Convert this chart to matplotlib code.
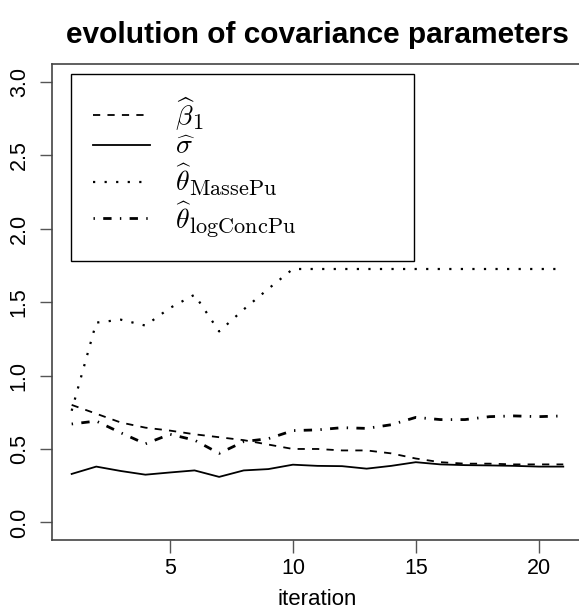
import numpy as np
import matplotlib
matplotlib.use("Agg")
from matplotlib import pyplot as plt
import matplotlib._mathtext as mt

# wider subscripts, closer to the LaTeX look of the original legend
mt.SHRINK_FACTOR = 0.8

# iterations and estimated covariance parameters
iteration = np.arange(1, 22)
beta1 = [0.80, 0.74, 0.68, 0.645, 0.625, 0.60, 0.58, 0.56, 0.53, 0.50, 0.50,
         0.49, 0.49, 0.47, 0.435, 0.41, 0.40, 0.40, 0.395, 0.395, 0.395]
sigma = [0.33, 0.38, 0.35, 0.325, 0.34, 0.354, 0.31, 0.354, 0.363, 0.393, 0.385,
         0.383, 0.366, 0.385, 0.41, 0.395, 0.39, 0.388, 0.385, 0.38, 0.38]
theta_masse = [0.76, 1.36, 1.38, 1.34, 1.46, 1.55, 1.30, 1.45, 1.59, 1.725, 1.725,
               1.725, 1.725, 1.725, 1.725, 1.725, 1.725, 1.725, 1.725, 1.725, 1.725]
theta_logconc = [0.67, 0.69, 0.61, 0.535, 0.60, 0.56, 0.47, 0.55, 0.57, 0.625, 0.63,
                 0.645, 0.64, 0.665, 0.715, 0.70, 0.70, 0.72, 0.725, 0.72, 0.725]

labels = [r"$\widehat{\beta}_1$", r"$\widehat{\sigma}$",
          r"$\widehat{\theta}_{\mathrm{MassePu}}$",
          r"$\widehat{\theta}_{\mathrm{logConcPu}}$"]

plt.rcParams['font.family'] = ['Liberation Sans', 'DejaVu Sans']
plt.rcParams['mathtext.fontset'] = 'cm'

fig = plt.figure(figsize=(5.79, 6.13), dpi=100)
ax = fig.add_axes([0.0898, 0.119, 0.917, 0.7765])

ax.plot(iteration, beta1, color='black', lw=1.3, linestyle=(0, (4, 4)), label=labels[0])
ax.plot(iteration, sigma, color='black', lw=1.3, linestyle='-', label=labels[1])
ax.plot(iteration, theta_masse, color='black', lw=1.6, linestyle=(0, (1, 4.2)), label=labels[2])
ax.plot(iteration, theta_logconc, color='black', lw=2.0, linestyle=(0, (0.5, 3, 3, 3)), label=labels[3])

ax.set_xlim(0.2, 21.8)
ax.set_ylim(-0.12, 3.12)
ax.set_xticks([5, 10, 15, 20])
ax.set_yticks([0.0, 0.5, 1.0, 1.5, 2.0, 2.5, 3.0])
ax.set_yticklabels(["0.0", "0.5", "1.0", "1.5", "2.0", "2.5", "3.0"], rotation=90, va='center')
ax.tick_params(axis='both', labelsize=15.5, length=9, width=1, color='#555555')
ax.tick_params(axis='y', pad=7)
ax.tick_params(axis='x', pad=4)
for s in ax.spines.values():
    s.set_color('#444444')
    s.set_linewidth(1.2)

ax.set_xlabel("iteration", fontsize=16, labelpad=7)
ax.set_title("evolution of covariance parameters", fontsize=21.5, fontweight='bold', pad=15)

leg = ax.legend(loc='upper left', bbox_to_anchor=(0.0358, 0.0, 0.646, 0.979), mode='expand',
                fontsize=20, frameon=True, fancybox=False, framealpha=1,
                edgecolor='black', handlelength=2.05, handletextpad=0.9,
                borderpad=0.78, labelspacing=0.05, borderaxespad=0)
leg.get_frame().set_linewidth(1.0)

plt.savefig("out.png", dpi=100)
